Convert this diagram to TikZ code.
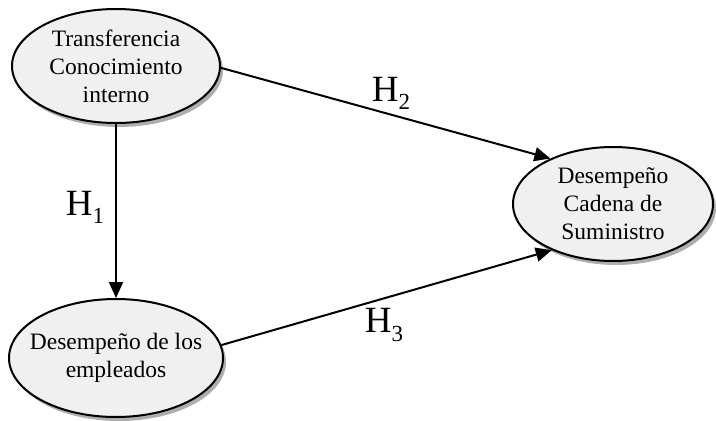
\documentclass[tikz,border=0pt]{standalone}
\usepackage{fontspec}
\setmainfont{Liberation Serif}
\usetikzlibrary{shapes.geometric,shadows,arrows.meta}
\definecolor{ellfill}{HTML}{F0F0F0}
\newcommand{\hsub}[1]{H\raisebox{-0.22em}{\fontsize{23}{23}\selectfont #1}}
\tikzset{
  construct/.style={ellipse, draw=black, line width=2pt, fill=ellfill,
    inner sep=0pt,
    drop shadow={shadow xshift=3pt, shadow yshift=-4pt, opacity=0.45, fill=black!70}},
  ctext/.style={align=center, inner sep=0pt, font=\fontsize{23.5}{28}\selectfont},
  path/.style={-{Triangle[length=16pt,width=14pt]}, line width=2pt},
  hlabel/.style={font=\fontsize{37}{40}\selectfont, inner sep=0pt}
}
\begin{document}
\begin{tikzpicture}[x=1pt,y=-1pt]
\useasboundingbox (0,0) rectangle (716,421);
\node[construct, minimum width=208pt, minimum height=114pt] (tci) at (116,66) {};
\node[ctext] (tcit) at (tci) {Transferencia\\Conocimiento\\interno};
\node[construct, minimum width=214pt, minimum height=118pt] (dem) at (116,358) {};
\node[ctext] (demt) at (dem) {Desempeño de los\\empleados};
\node[construct, minimum width=200pt, minimum height=114pt] (dcs) at (613,204) {};
\node[ctext] (dcst) at (dcs) {Desempeño\\Cadena de\\Suministro};
\draw[path] (tci.south) -- (dem.north);
\draw[path] (tci.-1) -- (dcs.144);
\draw[path] (dem.7) -- (dcs.217);
\node[hlabel] (h1) at (85,207) {\hsub{1}};
\node[hlabel] (h2) at (391,93) {\hsub{2}};
\node[hlabel] (h3) at (384,325) {\hsub{3}};
\end{tikzpicture}
\end{document}
